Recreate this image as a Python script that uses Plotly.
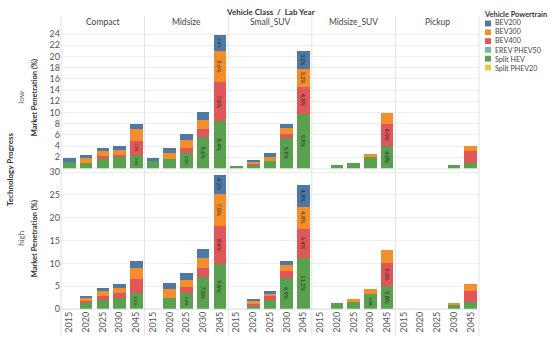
import plotly.graph_objects as go

W, H = 550, 341


def px(x):
    return x / W


def py(y):
    return 1 - y / H


classes = ["Compact", "Midsize", "Small_SUV", "Midsize_SUV", "Pickup"]
years = ["2015", "2020", "2025", "2030", "2045"]
scenarios = ["low", "high"]
powertrains = ["BEV200", "BEV300", "BEV400", "EREV PHEV50", "Split HEV", "Split PHEV20"]
colors = {
    "BEV200": "#4E79A7",
    "BEV300": "#F28E2B",
    "BEV400": "#E15759",
    "EREV PHEV50": "#76B7B2",
    "Split HEV": "#59A14F",
    "Split PHEV20": "#EDC948",
}

# values per class (rows) and year (columns), in %
low_split_hev = [[1.1, 1.05, 1.7, 2.0, 2.5],
                 [1.4, 1.7, 2.8, 5.6, 8.4],
                 [0.4, 0.6, 1.35, 5.5, 9.8],
                 [0, 0.65, 1.05, 2.0, 4.0],
                 [0, 0, 0, 0.55, 0.95]]
low_bev400 = [[0, 0, 0.45, 0.5, 2.5],
              [0, 0, 0.9, 1.4, 7.0],
              [0, 0.15, 0.05, 0.7, 4.8],
              [0, 0, 0, 0, 4.0],
              [0, 0, 0, 0, 2.1]]
low_bev300 = [[0.1, 0.9, 0.9, 0.8, 2.0],
              [0, 1.1, 1.35, 1.7, 5.6],
              [0, 0.35, 0.7, 1.0, 3.2],
              [0, 0, 0, 0.65, 2.0],
              [0, 0, 0, 0, 1.0]]
low_bev200 = [[0.7, 0.4, 0.6, 0.7, 1.0],
              [0.5, 0.85, 1.05, 1.45, 2.8],
              [0, 0.25, 0.7, 0.75, 3.2],
              [0, 0, 0, 0, 0],
              [0, 0, 0, 0, 0]]

high_split_hev = [[0, 1.4, 1.95, 2.5, 3.5],
                  [0, 2.3, 3.4, 7.0, 9.8],
                  [0, 0.8, 2.05, 6.9, 11.2],
                  [0, 1.2, 1.57, 3.2, 5.0],
                  [0, 0, 0, 1.05, 1.43]]
high_bev400 = [[0, 0.3, 0.93, 1.0, 3.0],
               [0, 0, 1.4, 2.0, 8.4],
               [0, 0.35, 0.7, 1.35, 6.4],
               [0, 0, 0, 0, 5.0],
               [0, 0, 0, 0, 2.5]]
high_bev300 = [[0, 0.65, 1.07, 1.0, 2.5],
               [0, 2.0, 1.55, 2.1, 7.0],
               [0, 0.65, 0.55, 1.4, 4.8],
               [0, 0, 0.71, 1.1, 3.0],
               [0, 0, 0, 0.35, 1.5]]
high_bev200 = [[0, 0.45, 0.71, 0.93, 1.6],
               [0, 1.4, 1.43, 1.95, 4.2],
               [0, 0.4, 0.6, 0.85, 4.8],
               [0, 0, 0, 0, 0],
               [0, 0, 0, 0, 0]]
zeros = [[0, 0, 0, 0, 0] for _ in classes]

data = {
    "low": {"BEV200": low_bev200, "BEV300": low_bev300, "BEV400": low_bev400,
            "EREV PHEV50": zeros, "Split HEV": low_split_hev, "Split PHEV20": zeros},
    "high": {"BEV200": high_bev200, "BEV300": high_bev300, "BEV400": high_bev400,
             "EREV PHEV50": zeros, "Split HEV": high_split_hev, "Split PHEV20": zeros},
}
label_min = {"low": 2.5, "high": 3.1}

low_ticks = [2, 4, 6, 8, 10, 12, 14, 16, 18, 20, 22, 24]
high_ticks = [0, 5, 10, 15, 20, 25, 30]

FONT = "Lato"
stack_order = ["Split PHEV20", "Split HEV", "EREV PHEV50", "BEV400", "BEV300", "BEV200"]

col_edges = [61 + i * 83.6 for i in range(6)]
row_geom = {"low": (25, 169.5, 25.2, low_ticks), "high": (170, 313.3, 30.7, high_ticks)}

fig = go.Figure()
layout_axes = {}
for r, sc in enumerate(scenarios):
    top_px, bot_px, ymax, ticks = row_geom[sc]
    for c, cls in enumerate(classes):
        k = r * 5 + c + 1
        xa = "x" if k == 1 else f"x{k}"
        ya = "y" if k == 1 else f"y{k}"
        for pt in stack_order:
            vals = data[sc][pt][c]
            txt = [f"{v:.1f}%" if v >= label_min[sc] else "" for v in vals]
            fig.add_trace(go.Bar(
                x=years, y=vals, xaxis=xa, yaxis=ya,
                marker=dict(color=colors[pt], line=dict(width=0)),
                text=txt, textposition="inside", insidetextanchor="middle",
                textangle=90,
                textfont=dict(size=7, color="#222222", family=FONT),
                showlegend=False, name=pt,
            ))
        xkey = "xaxis" if k == 1 else f"xaxis{k}"
        ykey = "yaxis" if k == 1 else f"yaxis{k}"
        layout_axes[xkey] = dict(
            domain=[px(col_edges[c]), px(col_edges[c + 1])],
            anchor=ya, type="category", categoryorder="array", categoryarray=years,
            range=[-0.5, 4.5], showgrid=False, zeroline=False, showline=False,
            ticks="", showticklabels=(sc == "high"), tickangle=-90,
            tickfont=dict(size=9, color="#555555", family=FONT),
        )
        layout_axes[ykey] = dict(
            domain=[py(bot_px), py(top_px)], anchor=xa,
            range=[0, ymax], tickvals=ticks, showgrid=True, gridcolor="#eeeeee",
            gridwidth=1, zeroline=False, showline=False, ticks="",
            showticklabels=(c == 0),
            tickfont=dict(size=9, color="#555555", family=FONT),
        )

shapes = []
for xe in col_edges:
    shapes.append(dict(type="line", xref="paper", yref="paper",
                       x0=px(xe), x1=px(xe), y0=py(13), y1=py(341),
                       line=dict(color="#e3e3e3", width=1)))
shapes.append(dict(type="line", xref="paper", yref="paper",
                   x0=px(61), x1=px(479), y0=py(170), y1=py(170),
                   line=dict(color="#e8e8e8", width=1)))
shapes.append(dict(type="line", xref="paper", yref="paper",
                   x0=px(61), x1=px(479), y0=py(313.5), y1=py(313.5),
                   line=dict(color="#d8d8d8", width=1)))

annotations = []


def ann(x, y, text, size=8, color="#333333", bold=False, angle=0, xanchor="center",
        yanchor="middle"):
    annotations.append(dict(
        x=px(x), y=py(y), xref="paper", yref="paper", showarrow=False,
        text=f"<b>{text}</b>" if bold else text, textangle=angle,
        xanchor=xanchor, yanchor=yanchor, borderpad=0, align="left",
        font=dict(size=size, color=color, family=FONT),
    ))


ann(270, 9, "Vehicle Class  /  Lab Year", size=8, color="#333333", bold=True)
for c, cls in enumerate(classes):
    ann((col_edges[c] + col_edges[c + 1]) / 2, 19.5, cls, size=8.5, color="#444444")

ann(10, 170, "Technology Progress", size=8, bold=True, angle=-90)
ann(21, 97, "low", size=8, color="#666666", angle=-90)
ann(21, 241.5, "high", size=8, color="#666666", angle=-90)
ann(34.5, 97, "Market Penetration (%)", size=7.5, bold=True, angle=-90)
ann(34.5, 241.5, "Market Penetration (%)", size=7.5, bold=True, angle=-90)

# legend
ann(483, 11.5, "Vehicle Powertrain", size=7.4, bold=True, xanchor="left")
leg_y = [21, 30, 39, 48, 57, 66]
for pt, yy in zip(powertrains, leg_y):
    shapes.append(dict(type="rect", xref="paper", yref="paper",
                       x0=px(485), x1=px(491), y0=py(yy + 3), y1=py(yy - 3),
                       fillcolor=colors[pt], line=dict(width=0)))
ann(494, (leg_y[0] + leg_y[-1]) / 2, "<br>".join(powertrains), size=7.1,
    color="#444444", xanchor="left")

fig.update_layout(
    width=W, height=H, margin=dict(l=0, r=0, t=0, b=0),
    paper_bgcolor="white", plot_bgcolor="white",
    barmode="stack", bargap=0.25,
    uniformtext=dict(minsize=7, mode="show"),
    shapes=shapes, annotations=annotations,
    font=dict(family=FONT),
    **layout_axes,
)

fig.write_html("out.html", config={"displayModeBar": False},
               post_script="document.body.style.margin='0px';")
